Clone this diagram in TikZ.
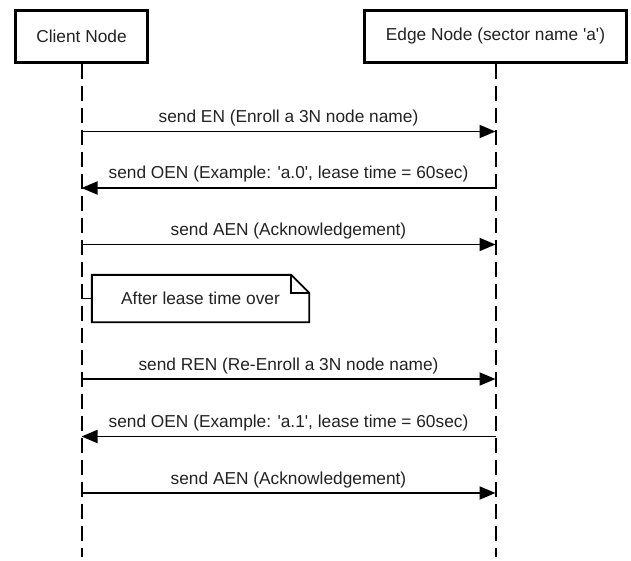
\documentclass[tikz,border=0pt]{standalone}
\usepackage{fontspec}
\setmainfont{Liberation Sans}[Ligatures=TeXOff]
\usetikzlibrary{arrows.meta,calc}
\begin{document}
\begin{tikzpicture}[x=1pt,y=-1pt,
  txt/.style={text={rgb,255:red,34;green,34;blue,34}, font=\fontsize{17.3}{20}\selectfont},
  actor/.style={draw=black, line width=3pt, fill=white, minimum width=#1, minimum height=52pt, inner sep=0pt, txt},
  lifeline/.style={draw=black, line width=2pt, dash pattern=on 15pt off 7pt},
  msg/.style={draw=black, line width=1.9pt, -{Triangle[length=16pt,width=13pt]}},
  lbl/.style={txt, midway, anchor=base, yshift=9pt, inner sep=0pt},
  notebox/.style={minimum width=217pt, minimum height=47pt, inner sep=0pt, txt},
  noteline/.style={draw=black, line width=1.9pt, line join=miter}
]
\useasboundingbox (0,0) rectangle (631,561);

% participants
\node[actor=132pt] (client) at (81.5,36.5) {Client Node};
\node[actor=262pt] (edge) at (495.5,36.5) {Edge Node (sector name 'a')};

% lifelines
\coordinate (cEnd) at (81.5,557);
\coordinate (eEnd) at (495.5,557);
\draw[lifeline] (client.south) -- (cEnd);
\draw[lifeline] (edge.south) -- (eEnd);

% message anchors on the lifelines
\foreach \i/\y in {1/131.5,2/188,3/244.5,4/379,5/436.5,6/493} {
  \coordinate (c\i) at (81.5,\y);
  \coordinate (e\i) at (495.5,\y);
}

\draw[msg] (c1) -- node[lbl] {send EN (Enroll a 3N node name)} (e1);
\draw[msg] (e2) -- node[lbl] {send OEN (Example: 'a.0', lease time = 60sec)} (c2);
\draw[msg] (c3) -- node[lbl] {send AEN (Acknowledgement)} (e3);
\draw[msg] (c4) -- node[lbl] {send REN (Re-Enroll a 3N node name)} (e4);
\draw[msg] (e5) -- node[lbl] {send OEN (Example: 'a.1', lease time = 60sec)} (c5);
\draw[msg] (c6) -- node[lbl] {send AEN (Acknowledgement)} (e6);

% note with folded corner
\node[notebox] (note) at (200.5,298.5) {};
\coordinate (noteTap) at (81.5,298.5);
\draw[noteline] (noteTap) -- (note.west);
\draw[noteline, fill=white]
  (note.north west) -- ($(note.north east)+(-18,0)$) -- ($(note.north east)+(0,18)$)
  -- (note.south east) -- (note.south west) -- cycle;
\draw[noteline] ($(note.north east)+(-18,0)$) -- ($(note.north east)+(-18,18)$) -- ($(note.north east)+(0,18)$);
\node[txt, inner sep=0pt] (noteText) at (note.center) {After lease time over};
\end{tikzpicture}
\end{document}
